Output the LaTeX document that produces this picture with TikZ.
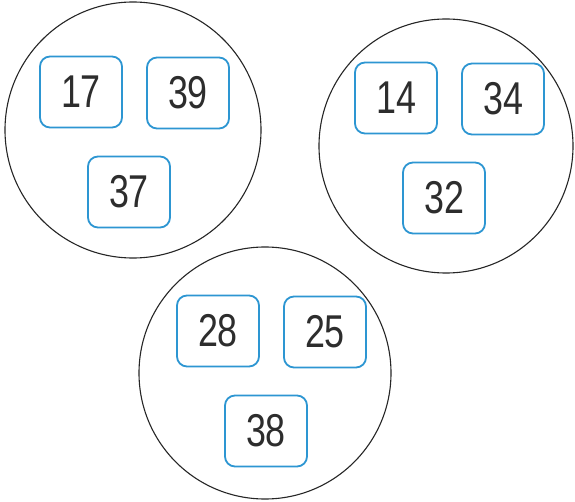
\documentclass[tikz,border=0pt]{standalone}
\usepackage{fontspec}
\setmainfont{Liberation Sans}
\definecolor{boxblue}{RGB}{45,150,210}
\definecolor{numgray}{RGB}{45,45,45}
\tikzset{
  setcircle/.style={draw=black!85, line width=1.1pt},
  numbox/.style={draw=boxblue, line width=1.8pt, rounded corners=10pt,
    minimum width=82pt, minimum height=71pt, inner sep=0pt, text=numgray,
    font=\fontsize{46}{46}\selectfont},
}
\newcommand{\nm}[1]{\scalebox{0.78}[1]{#1}}
\begin{document}
\begin{tikzpicture}[x=1pt,y=-1pt]
\useasboundingbox (0,0) rectangle (575,502);
\fill[white] (0,0) rectangle (575,502);
% circles
\node[setcircle, circle, minimum size=256pt, inner sep=0pt] (c1) at (133,130) {};
\node[setcircle, circle, minimum size=254pt, inner sep=0pt] (c2) at (446,146) {};
\node[setcircle, circle, minimum size=252pt, inner sep=0pt] (c3) at (265,373) {};
% boxes circle 1
\node[numbox] (b17) at (81,92) {\nm{17}};
\node[numbox] (b39) at (188,93) {\nm{39}};
\node[numbox] (b37) at (129,192) {\nm{37}};
% boxes circle 2
\node[numbox] (b14) at (396,98) {\nm{14}};
\node[numbox] (b34) at (503,99) {\nm{34}};
\node[numbox] (b32) at (444,198) {\nm{32}};
% boxes circle 3
\node[numbox] (b28) at (218,331) {\nm{28}};
\node[numbox] (b25) at (325,332) {\nm{25}};
\node[numbox] (b38) at (266,431) {\nm{38}};
\end{tikzpicture}
\end{document}
